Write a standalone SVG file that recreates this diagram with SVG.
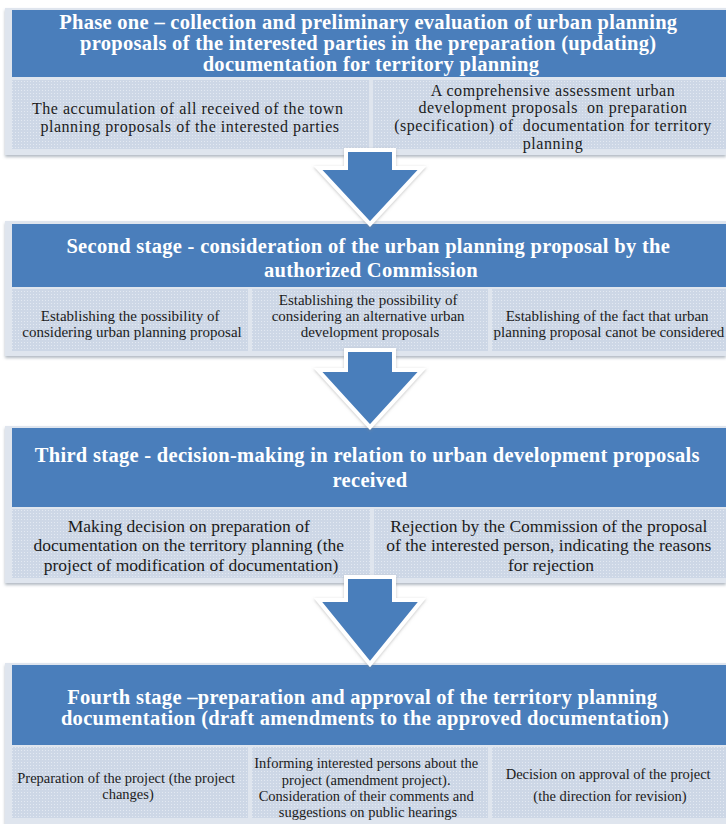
<svg xmlns="http://www.w3.org/2000/svg" width="726" height="824" viewBox="0 0 726 824">
  <defs>
    <!-- fine dotted texture used inside the detail boxes -->
    <pattern id="dots" width="3" height="3" patternUnits="userSpaceOnUse">
      <rect width="3" height="3" fill="#cdd7e6"/>
      <rect x="0" y="0" width="1" height="1" fill="#e3e9f2"/>
    </pattern>
    <filter id="shadow" x="-5%" y="-5%" width="110%" height="115%">
      <feDropShadow dx="0" dy="2" stdDeviation="1.5" flood-color="#7f8a99" flood-opacity="0.6"/>
    </filter>
    <filter id="arrowShadow" x="-20%" y="-20%" width="140%" height="140%">
      <feDropShadow dx="0" dy="1" stdDeviation="1.5" flood-color="#8a8a8a" flood-opacity="0.5"/>
    </filter>
  </defs>
  <style>
    .panel { fill: #dfe5ee; filter: url(#shadow); }
    .head { fill: #4a7ebb; }
    .cell { fill: url(#dots); }
    .title { font-family: "Liberation Serif", "Times New Roman", serif; font-weight: bold; font-size: 20.5px; fill: #ffffff; text-anchor: middle; letter-spacing: 0.3px; }
    .txt { font-family: "Liberation Serif", "Times New Roman", serif; font-size: 17.5px; fill: #1c1c1c; text-anchor: middle; }
    .tight { font-family: "Liberation Serif", "Times New Roman", serif; font-size: 16px; fill: #1c1c1c; text-anchor: middle; letter-spacing: 0.55px; }
    .sm { font-family: "Liberation Serif", "Times New Roman", serif; font-size: 15px; fill: #1c1c1c; text-anchor: middle; }
    .xs { font-family: "Liberation Serif", "Times New Roman", serif; font-size: 14.5px; fill: #1c1c1c; text-anchor: middle; }
    .arrow { fill: #4a7ebb; stroke: #ffffff; stroke-width: 4; stroke-linejoin: miter; filter: url(#arrowShadow); }
  </style>

  <rect width="726" height="824" fill="#ffffff"/>

  <!-- Stage 1 -->
  <g id="stage1">
    <rect class="panel" x="5" y="8" width="721" height="147"/>
    <rect class="head" x="12" y="10" width="714" height="67"/>
    <rect class="cell" x="12" y="80" width="357" height="69"/>
    <rect class="cell" x="373" y="80" width="353" height="69"/>
    <text class="title">
      <tspan x="371" y="29">Phase one – collection and preliminary evaluation of urban planning</tspan>
      <tspan x="371" y="50">proposals of the interested parties in the preparation (updating)</tspan>
      <tspan x="371" y="71">documentation for territory planning</tspan>
    </text>
    <text class="tight">
      <tspan x="190" y="114">The accumulation of all received of the town</tspan>
      <tspan x="190" y="131.8">planning proposals of the interested parties</tspan>
    </text>
    <text class="tight" xml:space="preserve"><tspan x="553" y="95.5">A comprehensive assessment urban</tspan><tspan x="553" y="113.3">development proposals  on preparation</tspan><tspan x="553" y="131.1">(specification) of  documentation for territory</tspan><tspan x="553" y="148.9">planning</tspan></text>
  </g>

  <!-- Stage 2 -->
  <g id="stage2">
    <rect class="panel" x="5" y="221" width="721" height="135"/>
    <rect class="head" x="12" y="224" width="714" height="63"/>
    <rect class="cell" x="12" y="289" width="236" height="62"/>
    <rect class="cell" x="252" y="289" width="236" height="62"/>
    <rect class="cell" x="492" y="289" width="234" height="62"/>
    <text class="title">
      <tspan x="371" y="253">Second stage - consideration of the urban planning proposal by the</tspan>
      <tspan x="371" y="277">authorized Commission</tspan>
    </text>
    <text class="sm">
      <tspan x="132" y="321">Establishing the possibility of</tspan>
      <tspan x="132" y="337">considering urban planning proposal</tspan>
    </text>
    <text class="sm">
      <tspan x="370" y="305">Establishing the possibility of</tspan>
      <tspan x="370" y="321">considering an alternative urban</tspan>
      <tspan x="370" y="337">development proposals</tspan>
    </text>
    <text class="sm">
      <tspan x="609" y="321">Establishing of the fact that urban</tspan>
      <tspan x="609" y="337">planning proposal canot be considered</tspan>
    </text>
  </g>

  <!-- Stage 3 -->
  <g id="stage3">
    <rect class="panel" x="5" y="426" width="721" height="157"/>
    <rect class="head" x="12" y="428" width="714" height="79"/>
    <rect class="cell" x="12" y="509" width="358" height="69"/>
    <rect class="cell" x="374" y="509" width="352" height="69"/>
    <text class="title">
      <tspan x="370" y="462">Third stage - decision-making in relation to urban development proposals</tspan>
      <tspan x="370" y="487">received</tspan>
    </text>
    <text class="txt">
      <tspan x="191" y="532">Making decision on preparation of</tspan>
      <tspan x="191" y="551">documentation on the territory planning (the</tspan>
      <tspan x="191" y="571">project of modification of documentation)</tspan>
    </text>
    <text class="txt">
      <tspan x="551" y="532">Rejection by the Commission of the proposal</tspan>
      <tspan x="551" y="551">of the interested person, indicating the reasons</tspan>
      <tspan x="551" y="571">for rejection</tspan>
    </text>
  </g>

  <!-- Stage 4 -->
  <g id="stage4">
    <rect class="panel" x="5" y="663" width="721" height="161"/>
    <rect class="head" x="12" y="665" width="714" height="80"/>
    <rect class="cell" x="12" y="747" width="236" height="71"/>
    <rect class="cell" x="252" y="747" width="236" height="71"/>
    <rect class="cell" x="492" y="747" width="234" height="71"/>
    <text class="title">
      <tspan x="365" y="704">Fourth stage –preparation and approval of the territory planning</tspan>
      <tspan x="365" y="725">documentation (draft amendments to the approved documentation)</tspan>
    </text>
    <text class="xs">
      <tspan x="128" y="783">Preparation of the project (the project</tspan>
      <tspan x="128" y="799">changes)</tspan>
    </text>
    <text class="xs">
      <tspan x="368" y="768">Informing interested persons about the</tspan>
      <tspan x="368" y="785">project (amendment project).</tspan>
      <tspan x="368" y="801">Consideration of their comments and</tspan>
      <tspan x="368" y="817">suggestions on public hearings</tspan>
    </text>
    <text class="xs">
      <tspan x="610" y="779">Decision on approval of the project</tspan>
      <tspan x="610" y="801">(the direction for revision)</tspan>
    </text>
  </g>

  <!-- Connectors: block arrows between stages -->
  <g id="connectors">
    <path class="arrow" d="M346,150 H394 V168 H422 L370,224 L318,168 H346 Z"/>
    <path class="arrow" d="M346,350 H394 V370 H422 L370,427 L318,370 H346 Z"/>
    <path class="arrow" d="M346,577 H394 V600 H422 L370,664 L318,600 H346 Z"/>
  </g>
</svg>
